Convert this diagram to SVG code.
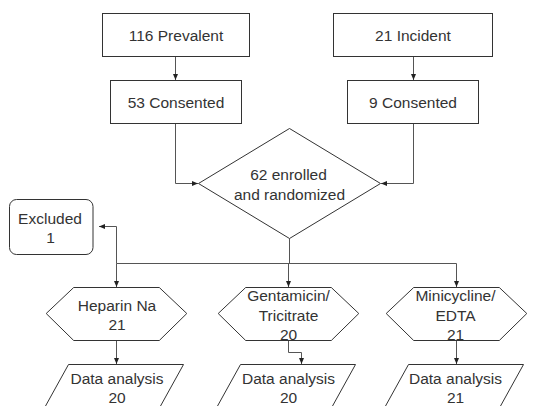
<svg xmlns="http://www.w3.org/2000/svg" width="549" height="406" viewBox="0 0 549 406">
<style>
.box{fill:#fff;stroke:#333;stroke-width:1}
.con{fill:none;stroke:#555;stroke-width:1}
.t{font-family:"Liberation Sans",Arial,sans-serif;font-size:15.5px;fill:#333;text-anchor:middle}
</style>
<defs>
<marker id="ah" markerUnits="userSpaceOnUse" markerWidth="6" markerHeight="6" refX="6" refY="3" orient="auto">
<path d="M0,0.5 L6,3 L0,5.5 z" fill="#222"/>
</marker>
</defs>
<rect width="549" height="406" fill="#fff"/>
<g id="connectors">
<path class="con" d="M175.5,56.5 V80" marker-end="url(#ah)"/>
<path class="con" d="M413.5,56.5 V80" marker-end="url(#ah)"/>
<path class="con" d="M175.5,123.5 V183.5 H198" marker-end="url(#ah)"/>
<path class="con" d="M413.5,123.5 V183.5 H381" marker-end="url(#ah)"/>
<path class="con" d="M289.5,238.5 V263.5 M116.5,263.5 H456.5"/>
<path class="con" d="M116.5,263.5 V287" marker-end="url(#ah)"/>
<path class="con" d="M288.5,263.5 V287" marker-end="url(#ah)"/>
<path class="con" d="M456.5,263.5 V287" marker-end="url(#ah)"/>
<path class="con" d="M116.5,263.5 V226.5 H99" marker-end="url(#ah)"/>
<path class="con" d="M116.5,340.5 V364" marker-end="url(#ah)"/>
<path class="con" d="M288.5,340.5 V352.5 H301.5 V364" marker-end="url(#ah)"/>
<path class="con" d="M456.5,340.5 V364" marker-end="url(#ah)"/>
</g>
<g id="prevalent">
<rect class="box" x="102.5" y="13.5" width="147" height="43"/>
<text class="t" x="176" y="40.5">116 Prevalent</text>
</g>
<g id="incident">
<rect class="box" x="333.5" y="13.5" width="159" height="43"/>
<text class="t" x="413" y="40.5">21 Incident</text>
</g>
<g id="consented53">
<rect class="box" x="110.5" y="80.5" width="131" height="43"/>
<text class="t" x="176" y="107.5">53 Consented</text>
</g>
<g id="consented9">
<rect class="box" x="347.5" y="80.5" width="131" height="43"/>
<text class="t" x="413" y="107.5">9 Consented</text>
</g>
<g id="enrolled">
<polygon class="box" points="289.5,128.5 380.5,183.5 289.5,238.5 198.5,183.5"/>
<text class="t" x="288.5" y="180">62 enrolled</text>
<text class="t" x="289.5" y="199.5">and randomized</text>
</g>
<g id="excluded">
<rect class="box" x="9.5" y="199.5" width="83.5" height="55" rx="7"/>
<text class="t" x="50" y="223.5">Excluded</text>
<text class="t" x="50.5" y="243">1</text>
</g>
<g id="heparin">
<polygon class="box" points="46.2,313.5 73.7,287.5 159.3,287.5 186.8,313.5 159.3,340.5 73.7,340.5"/>
<text class="t" x="117" y="310.5">Heparin Na</text>
<text class="t" x="117" y="330">21</text>
</g>
<g id="gentamicin">
<polygon class="box" points="218.2,313.5 245.7,287.5 331.3,287.5 358.8,313.5 331.3,340.5 245.7,340.5"/>
<text class="t" x="288.5" y="300.5">Gentamicin/</text>
<text class="t" x="288.5" y="320.5">Tricitrate</text>
<text class="t" x="288.5" y="340">20</text>
</g>
<g id="minicycline">
<polygon class="box" points="386.2,313.5 413.7,287.5 499.3,287.5 526.8,313.5 499.3,340.5 413.7,340.5"/>
<text class="t" x="455.5" y="300.5">Minicycline/</text>
<text class="t" x="455.5" y="320.5">EDTA</text>
<text class="t" x="455.5" y="340">21</text>
</g>
<g id="analysis1">
<polygon class="box" points="68.5,364.5 183.5,364.5 152.5,420.5 37.5,420.5"/>
<text class="t" x="117" y="384">Data analysis</text>
<text class="t" x="117" y="402.5">20</text>
</g>
<g id="analysis2">
<polygon class="box" points="240.5,364.5 355.5,364.5 324.5,420.5 209.5,420.5"/>
<text class="t" x="288.5" y="384">Data analysis</text>
<text class="t" x="288.5" y="402.5">20</text>
</g>
<g id="analysis3">
<polygon class="box" points="408.5,364.5 523.5,364.5 492.5,420.5 377.5,420.5"/>
<text class="t" x="455.5" y="384">Data analysis</text>
<text class="t" x="455.5" y="402.5">21</text>
</g>
</svg>
